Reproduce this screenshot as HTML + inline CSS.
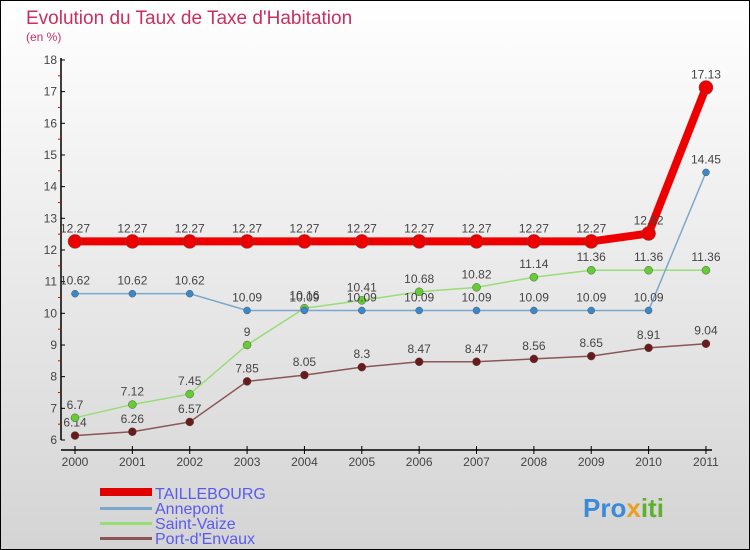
<!DOCTYPE html>
<html><head><meta charset="utf-8"><style>
body{margin:0}
#c{width:750px;height:550px;position:relative;overflow:hidden;box-sizing:border-box;border:1px solid #000;background:linear-gradient(#ffffff,#d4d4d4);font-family:"Liberation Sans",sans-serif}
</style></head><body>
<div id="c">
<svg id="s" width="750" height="550" style="position:absolute;left:-1px;top:-1px">
<text x="26" y="24" font-size="19" fill="#c8305f">Evolution du Taux de Taxe d'Habitation</text>
<text x="26" y="41" font-size="12" fill="#c8305f">(en %)</text>
<g id="axes"></g><g id="plot"></g>
<g>
<rect x="100" y="488" width="52" height="8" fill="#e00000"/>
<text x="155" y="499" font-size="16" fill="#5a5aee">TAILLEBOURG</text>
<rect x="100" y="507" width="52" height="3" fill="#7aa8cc"/>
<text x="155" y="514" font-size="16" fill="#5a5aee">Annepont</text>
<rect x="100" y="522" width="52" height="3" fill="#99dd77"/>
<text x="155" y="529" font-size="16" fill="#5a5aee">Saint-Vaize</text>
<rect x="100" y="537" width="52" height="3" fill="#8a5555"/>
<text x="155" y="544" font-size="16" fill="#5a5aee">Port-d'Envaux</text>
</g>
<text x="583" y="517" font-size="26" font-weight="bold" fill="#3a8ad8">Pro<tspan fill="#e8a020">x</tspan><tspan fill="#60b030">iti</tspan></text>
</svg></div>
<script>
const years=[2000,2001,2002,2003,2004,2005,2006,2007,2008,2009,2010,2011];
const taillebourg=[12.27,12.27,12.27,12.27,12.27,12.27,12.27,12.27,12.27,12.27,12.52,17.13];
const annepont=[10.62,10.62,10.62,10.09,10.09,10.09,10.09,10.09,10.09,10.09,10.09,14.45];
const saintVaize=[6.7,7.12,7.45,9,10.16,10.41,10.68,10.82,11.14,11.36,11.36,11.36];
const portEnvaux=[6.14,6.26,6.57,7.85,8.05,8.3,8.47,8.47,8.56,8.65,8.91,9.04];
const yTicks=[6,7,8,9,10,11,12,13,14,15,16,17,18];
const NS="http://www.w3.org/2000/svg";
const X=i=>75+i*57.36, Y=v=>440-(v-6)*31.67;
function mk(t,a,p){const e=document.createElementNS(NS,t);for(const k in a)e.setAttribute(k,a[k]);p.appendChild(e);return e;}
const ax=document.getElementById('axes'),pl=document.getElementById('plot');
let l=mk('line',{x1:61,y1:58,x2:61,y2:440,stroke:'#000','stroke-width':1.5},ax);


l=mk('line',{x1:61,y1:450,x2:712,y2:450,stroke:'#000','stroke-width':1.5},ax);


yTicks.forEach((v,i)=>{
 mk('line',{x1:61,y1:Y(v),x2:65,y2:Y(v),stroke:'#000'},ax);
 if(i<yTicks.length-1)mk('line',{x1:58,y1:Y(v+0.5),x2:61,y2:Y(v+0.5),stroke:'#e00000'},ax);
 const t=mk('text',{x:57,y:Y(v)+4,'font-size':12,fill:'#444','text-anchor':'end'},ax);t.textContent=v;
 
 
});
years.forEach((yr,i)=>{
 mk('line',{x1:X(i),y1:446,x2:X(i),y2:454,stroke:'#000'},ax);
 const t=mk('text',{x:X(i),y:466,'font-size':12,fill:'#444','text-anchor':'middle'},ax);t.textContent=yr;
 
 
});
function series(d,col,w,r,name,dot){
 const p=mk('polyline',{points:d.map((v,i)=>X(i)+','+Y(v)).join(' '),fill:'none',stroke:col,'stroke-width':w},pl);
 
 
 d.forEach((v,i)=>{
  const c=mk('circle',{cx:X(i),cy:Y(v),r:r,fill:dot,stroke:'#555','stroke-width':0.5},pl);
  
  
  const t=mk('text',{x:X(i),y:Y(v)-9,'font-size':12,fill:'#444','text-anchor':'middle'},pl);t.textContent=v;
  
  
 });
}
series(portEnvaux,'#8a5555',1.5,4,'port-d-envaux','#6a1a1a');
series(saintVaize,'#99dd77',1.5,4,'saint-vaize','#66cc33');
series(annepont,'#7aa8cc',1.5,3.5,'annepont','#3a88cc');
series(taillebourg,'#ee0000',8,7,'taillebourg','#ee0000');
</script></body></html>
